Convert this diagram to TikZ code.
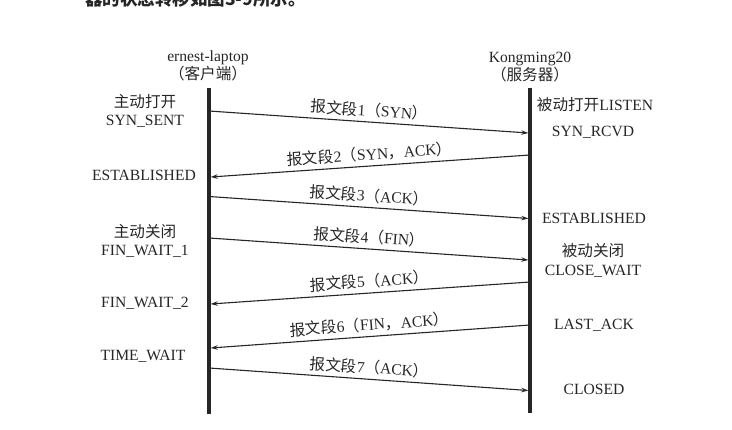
\documentclass[tikz,border=0pt]{standalone}
\usepackage{fontspec}
\setmainfont{Liberation Serif}
\newfontfamily\cjk{Noto Sans CJK SC}
\usetikzlibrary{arrows.meta}
\newcommand{\zh}[1]{{\cjk #1}}
\definecolor{ink}{HTML}{262626}
\begin{document}
\begin{tikzpicture}[x=1pt,y=-1pt,
  txt/.style={text=ink, font=\fontsize{15.6}{18.2}\selectfont, inner sep=0pt, align=center},
  life/.style={draw=ink, line width=3.2pt},
  msg/.style={draw=ink, line width=1.1pt, -{Stealth[length=7pt,width=4.5pt]}},
  lbl/.style={txt, midway, sloped, above=4pt}]
\useasboundingbox (0,0) rectangle (732,430);

% caption line running above the figure
\node[anchor=base west, text=ink, inner sep=0pt,
      font=\cjk\bfseries\fontsize{17.5}{20}\selectfont] (intro) at (85,6)
  {器的状态转移如图3-9所示。};

% hosts
\node[txt] (client) at (208,66) {ernest-laptop\\\zh{（客户端）}};
\node[txt] (server) at (530,67) {Kongming20\\\zh{（服务器）}};

% lifelines
\coordinate (Lt) at (209,88);  \coordinate (Lb) at (209,414);
\coordinate (Rt) at (530,88);  \coordinate (Rb) at (530,413);
\draw[life] (Lt) -- (Lb);
\draw[life] (Rt) -- (Rb);

% message end points
\coordinate (m1a) at (209,111);   \coordinate (m1b) at (528.3,133);
\coordinate (m2a) at (530,155);   \coordinate (m2b) at (210.7,177);
\coordinate (m3a) at (209,196.5); \coordinate (m3b) at (528.3,218.5);
\coordinate (m4a) at (209,238);   \coordinate (m4b) at (528.3,260);
\coordinate (m5a) at (530,282);   \coordinate (m5b) at (210.7,304);
\coordinate (m6a) at (530,325);   \coordinate (m6b) at (210.7,348);
\coordinate (m7a) at (209,368);   \coordinate (m7b) at (528.3,390.5);

\draw[msg] (m1a) -- node[lbl] (l1) {\zh{报文段}1\zh{（}SYN\zh{）}} (m1b);
\draw[msg] (m2a) -- node[lbl] (l2) {\zh{报文段}2\zh{（}SYN\zh{，}ACK\zh{）}} (m2b);
\draw[msg] (m3a) -- node[lbl] (l3) {\zh{报文段}3\zh{（}ACK\zh{）}} (m3b);
\draw[msg] (m4a) -- node[lbl] (l4) {\zh{报文段}4\zh{（}FIN\zh{）}} (m4b);
\draw[msg] (m5a) -- node[lbl] (l5) {\zh{报文段}5\zh{（}ACK\zh{）}} (m5b);
\draw[msg] (m6a) -- node[lbl] (l6) {\zh{报文段}6\zh{（}FIN\zh{，}ACK\zh{）}} (m6b);
\draw[msg] (m7a) -- node[lbl] (l7) {\zh{报文段}7\zh{（}ACK\zh{）}} (m7b);

% client states
\node[txt] (c1) at (145,111) {\zh{主动打开}\\SYN\_SENT};
\node[txt] (c2) at (144,175) {ESTABLISHED};
\node[txt] (c3) at (145,241) {\zh{主动关闭}\\FIN\_WAIT\_1};
\node[txt] (c4) at (145,303) {FIN\_WAIT\_2};
\node[txt] (c5) at (143,356) {TIME\_WAIT};

% server states
\node[txt] (s1) at (595,105) {\zh{被动打开}LISTEN};
\node[txt] (s2) at (593,132) {SYN\_RCVD};
\node[txt] (s3) at (594,218) {ESTABLISHED};
\node[txt] (s4) at (593,260.5) {\zh{被动关闭}\\CLOSE\_WAIT};
\node[txt] (s5) at (594,325) {LAST\_ACK};
\node[txt] (s6) at (594,389) {CLOSED};
\end{tikzpicture}
\end{document}
